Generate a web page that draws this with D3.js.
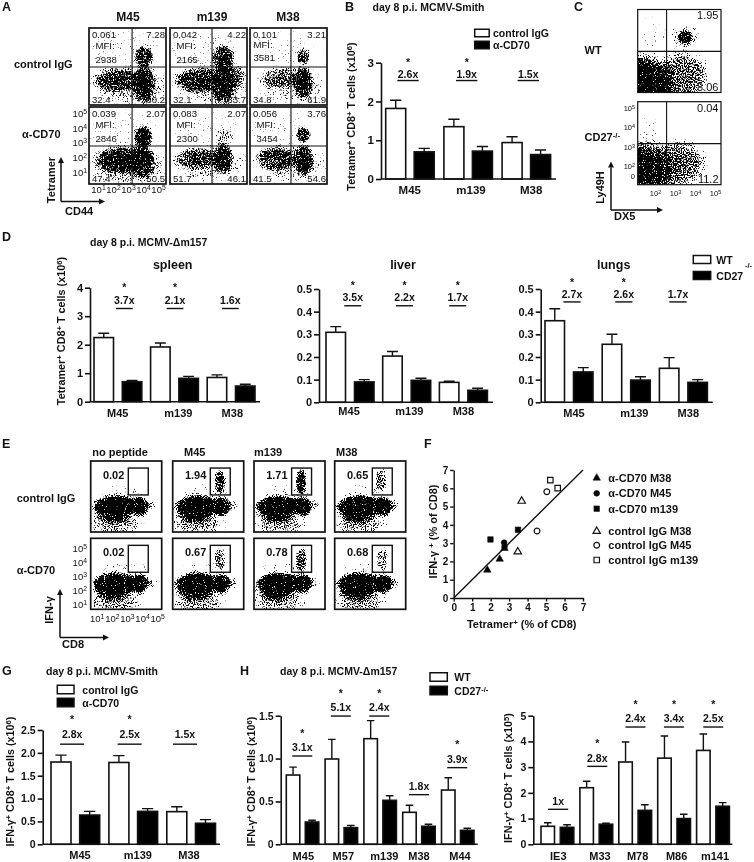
<!DOCTYPE html>
<html>
<head>
<meta charset="utf-8">
<title>CD70 / CD27 figure</title>
<script src="https://cdn.jsdelivr.net/npm/d3@7/dist/d3.min.js"></script>
<style>
  html, body { margin: 0; padding: 0; background: #fff; }
  svg { display: block; will-change: transform; }
  text { font-family: "Liberation Sans", Arial, sans-serif; fill: #111; }
</style>
</head>
<body>
<svg id="fig" width="754" height="862"></svg>
<script>
// panel B
var bCats = ['M45', 'm139', 'M38'];
var bCtrl = [1.82, 1.35, 0.94];
var bCtrlTop = [2.03, 1.54, 1.09];
var bCd70 = [0.70, 0.72, 0.63];
var bCd70Top = [0.79, 0.84, 0.75];
var bFold = ['2.6x', '1.9x', '1.5x'];
var bStar = [1, 1, 0];
var bLevel = [2.54, 2.54, 2.54];

// panel D
var dCats = ['M45', 'm139', 'M38'];
var spleenWt = [2.25, 1.92, 0.85];
var spleenWtTop = [2.40, 2.06, 0.94];
var spleenKo = [0.70, 0.82, 0.55];
var spleenKoTop = [0.75, 0.89, 0.61];
var spleenFold = ['3.7x', '2.1x', '1.6x'];
var spleenStar = [1, 1, 0];
var spleenLevel = [3.27, 3.27, 3.27];

var liverWt = [0.309, 0.204, 0.088];
var liverWtTop = [0.334, 0.224, 0.093];
var liverKo = [0.090, 0.097, 0.053];
var liverKoTop = [0.100, 0.106, 0.062];
var liverFold = ['3.5x', '2.2x', '1.7x'];
var liverStar = [1, 1, 1];
var liverLevel = [0.426, 0.426, 0.426];

var lungsWt = [0.360, 0.256, 0.150];
var lungsWtTop = [0.413, 0.300, 0.197];
var lungsKo = [0.134, 0.098, 0.088];
var lungsKoTop = [0.153, 0.113, 0.100];
var lungsFold = ['2.7x', '2.6x', '1.7x'];
var lungsStar = [1, 1, 0];
var lungsLevel = [0.443, 0.443, 0.443];

// panel G
var gCats = ['M45', 'm139', 'M38'];
var gCtrl = [1.80, 1.79, 0.714];
var gCtrlTop = [1.95, 1.94, 0.82];
var gCd70 = [0.64, 0.72, 0.46];
var gCd70Top = [0.72, 0.78, 0.54];
var gFold = ['2.8x', '2.5x', '1.5x'];
var gStar = [1, 1, 0];
var gLevel = [2.19, 2.19, 2.19];

// panel H
var hCatsA = ['M45', 'M57', 'm139', 'M38', 'M44'];
var hWtA = [0.808, 0.995, 1.232, 0.373, 0.633];
var hWtTopA = [0.90, 1.224, 1.442, 0.455, 0.777];
var hKoA = [0.26, 0.194, 0.513, 0.21, 0.163];
var hKoTopA = [0.28, 0.22, 0.567, 0.233, 0.187];
var hFoldA = ['3.1x', '5.1x', '2.4x', '1.8x', '3.9x'];
var hStarA = [1, 1, 1, 0, 1];
var hLevelA = [1.03, 1.496, 1.496, 0.579, 0.894];

var hCatsB = ['IE3', 'M33', 'M78', 'M86', 'm141'];
var hWtB = [0.70, 2.20, 3.20, 3.35, 3.65];
var hWtTopB = [0.84, 2.45, 3.98, 4.21, 4.29];
var hKoB = [0.66, 0.78, 1.32, 1.00, 1.48];
var hKoTopB = [0.76, 0.82, 1.54, 1.17, 1.62];
var hFoldB = ['1x', '2.8x', '2.4x', '3.4x', '2.5x'];
var hStarB = [0, 1, 1, 1, 1];
var hLevelB = [1.36, 3.03, 4.56, 4.56, 4.56];

// panel F, [tetramer %, IFN %]
var fCd70M38 = [[1.82, 1.53], [2.49, 2.13], [2.75, 2.72]];
var fCd70M45 = [[2.73, 3.03], [2.75, 2.80]];
var fCd70M139 = [[1.99, 3.20], [3.48, 3.73]];
var fCtrlM38 = [[3.68, 5.30], [3.47, 2.53]];
var fCtrlM45 = [[5.04, 5.81], [4.51, 3.66]];
var fCtrlM139 = [[5.23, 6.45], [5.63, 6.01]];
var fFit = [[0, 0], [7, 7]];

// flow panels: density clouds, [log x, log y, spread x, spread y, density]
var aCtrlM45 = [[3.3, 1.45, 2.9, 1.6, 0.45], [2.5, 4.0, 3, 1.5, 0.16], [2.25, 1.88, 1.9, 0.95, 0.8], [4.07, 3.45, 0.75, 0.85, 1], [4.07, 1.65, 0.85, 1.55, 1]];
var aCtrlM139 = [[3.3, 1.5, 2.9, 1.6, 0.45], [2.5, 4.0, 3, 1.5, 0.16], [2.4, 1.88, 2.1, 0.95, 0.88], [3.95, 3.36, 0.85, 1.05, 1], [3.95, 1.65, 0.95, 1.65, 1], [4.6, 2.1, 0.9, 1.1, 0.6]];
var aCtrlM38 = [[3.2, 1.5, 2.6, 1.5, 0.35], [2.5, 4.0, 3, 1.5, 0.15], [2.4, 2.0, 1.6, 0.85, 0.6], [3.95, 3.45, 0.55, 0.65, 0.8], [3.95, 1.7, 0.75, 1.4, 1]];
var aCd70M45 = [[3.0, 1.5, 3.0, 1.6, 0.55], [2.5, 4.0, 3, 1.5, 0.16], [2.67, 1.79, 2.1, 1.05, 1], [4.0, 3.36, 0.75, 0.95, 1], [4.0, 1.7, 0.85, 1.4, 1]];
var aCd70M139 = [[3.1, 1.6, 2.7, 1.45, 0.4], [2.5, 4.0, 3, 1.5, 0.13], [2.17, 1.9, 1.8, 0.85, 0.75], [4.0, 3.25, 0.65, 0.85, 0.5], [3.95, 1.9, 0.75, 1.2, 1]];
var aCd70M38 = [[3.1, 1.6, 2.7, 1.5, 0.42], [2.5, 4.0, 3, 1.5, 0.13], [2.17, 1.9, 1.7, 0.95, 0.8], [3.95, 3.52, 0.55, 0.6, 0.95], [3.95, 1.8, 0.75, 1.3, 1]];

var cWtCloud = [[1.2, 1.3, 2.0, 2.0, 1], [1.2, 1.3, 1.7, 1.7, 1], [3.33, 1.9, 1.6, 1.4, 0.68], [3.5, 3.9, 0.42, 0.45, 1], [3.5, 3.9, 0.85, 0.85, 0.3], [1.9, 3.9, 0.9, 1.2, 0.1]];
var cKoCloud = [[1.2, 1.7, 1.9, 1.9, 1], [3.08, 2.1, 1.7, 1.4, 0.7], [1.7, 3.7, 0.7, 1.0, 0.12]];

var eBase = [[2.3, 1.2, 1.9, 1.1, 0.5], [2.8, 3.5, 1.9, 0.6, 0.16], [2.8, 2.5, 2.3, 0.72, 1], [2.2, 2.4, 1.5, 0.85, 1], [2.1, 2.25, 1.55, 1.2, 1], [3.85, 2.4, 0.62, 0.85, 1]];
var eGateCtrl = [[], [[3.73, 4.2, 0.42, 1.05, 0.85]], [[3.73, 4.2, 0.42, 1.15, 0.9]], [[3.65, 4.3, 0.42, 0.95, 0.68]]];
var eGateCd70 = [[], [[3.73, 4.2, 0.42, 1.05, 0.65]], [[3.73, 4.1, 0.42, 1.1, 0.75]], [[3.73, 4.2, 0.42, 1.0, 0.55]]];

// flow gates and percentages
var aCols = ['M45', 'm139', 'M38'];
var aGateX = [3.27, 3.2, 3.13];
var aGateY = 2.76;
var aStats = [
  [['0.061', '7.28', '32.4', '60.2', '2938'], ['0.042', '4.22', '32.1', '63.7', '2165'], ['0.101', '3.21', '34.8', '61.9', '3581']],
  [['0.039', '2.07', '47.4', '50.5', '2846'], ['0.083', '2.07', '51.7', '46.1', '2300'], ['0.056', '3.76', '41.5', '54.6', '3454']]
];
var cStats = [['1.95', '8.06'], ['0.04', '11.2']];
var eCols = ['no peptide', 'M45', 'm139', 'M38'];
var eStats = [['0.02', '1.94', '1.71', '0.65'], ['0.02', '0.67', '0.78', '0.68']];
var logTicks = [1, 2, 3, 4, 5];
var cTicksX = [2, 3, 4, 5];
var cTicksY = [2, 3, 4, 5];

var svg = d3.select('#fig');
var defs = svg.append('defs');

// soft edged cloud
var grad = defs.append('radialGradient').attr('id', 'soft');
grad.append('stop').attr('offset', '0%').attr('stop-color', '#000').attr('stop-opacity', 1);
grad.append('stop').attr('offset', '60%').attr('stop-color', '#000').attr('stop-opacity', 0.85);
grad.append('stop').attr('offset', '100%').attr('stop-color', '#000').attr('stop-opacity', 0);

// turns the clouds into stippled dots
function stipple(id, freq, seed, slope) {
  var f = defs.append('filter').attr('id', id).attr('filterUnits', 'userSpaceOnUse')
    .attr('x', 0).attr('y', 0).attr('width', 754).attr('height', 862)
    .attr('color-interpolation-filters', 'sRGB');
  f.append('feTurbulence').attr('type', 'fractalNoise').attr('baseFrequency', freq)
    .attr('numOctaves', 1).attr('seed', seed).attr('result', 'noise');
  f.append('feColorMatrix').attr('in', 'noise').attr('type', 'matrix')
    .attr('values', '0 0 0 0 0  0 0 0 0 0  0 0 0 0 0  2.2 0 0 0 -0.6').attr('result', 'na');
  f.append('feComposite').attr('in', 'SourceAlpha').attr('in2', 'na').attr('operator', 'arithmetic')
    .attr('k1', 0).attr('k2', 1).attr('k3', 1).attr('k4', -1).attr('result', 'sum');
  f.append('feComponentTransfer').attr('in', 'sum').append('feFuncA')
    .attr('type', 'linear').attr('slope', slope).attr('intercept', 0);
}
stipple('dotsFine', 1.4, 4, 4);
stipple('dotsCoarse', 0.9, 9, 6);

var STROKE = '#111';

// "x10^{6}" becomes a superscript tspan
function rich(sel, str) {
  str.split(/\^\{(.*?)\}/).forEach(function(part, i) {
    if (!part) return;
    var t = sel.append('tspan').text(part);
    if (i % 2) t.attr('font-size', '72%').attr('baseline-shift', '38%');
  });
  return sel;
}

function label(x, y, str, size, bold, anchor, rot) {
  var t = svg.append('text')
    .attr('font-size', size)
    .attr('font-weight', bold ? 'bold' : 'normal')
    .attr('text-anchor', anchor || 'start');
  if (rot) t.attr('transform', 'translate(' + x + ',' + y + ') rotate(' + rot + ')');
  else t.attr('x', x).attr('y', y);
  return rich(t, str);
}

function arrows(ox, oy, top, right, len) {
  var g = svg.append('g').attr('stroke', STROKE).attr('stroke-width', 1.5).attr('fill', 'none');
  g.append('line').attr('x1', ox).attr('y1', oy).attr('x2', ox).attr('y2', top + len);
  g.append('line').attr('x1', ox).attr('y1', oy).attr('x2', right - len).attr('y2', oy);
  g.append('path').attr('stroke', 'none').attr('fill', STROKE)
    .attr('d', 'M' + ox + ',' + top + 'l3,' + len + 'h-6z');
  g.append('path').attr('stroke', 'none').attr('fill', STROKE)
    .attr('d', 'M' + right + ',' + oy + 'l-' + len + ',3v-6z');
}

var clipCount = 0;
function flowPanel(o) {
  var x = d3.scaleLog().domain(o.xDomain).range([o.x, o.x + o.w]);
  var y = d3.scaleLog().domain(o.yDomain).range([o.y + o.h, o.y]);
  var clipId = 'clip' + (clipCount++);
  defs.append('clipPath').attr('id', clipId).append('rect')
    .attr('x', o.x).attr('y', o.y).attr('width', o.w).attr('height', o.h);
  var inner = svg.append('g').attr('clip-path', 'url(#' + clipId + ')')
    .append('g').attr('filter', 'url(#' + o.filter + ')');
  inner.selectAll('ellipse').data(o.clouds).join('ellipse')
    .attr('cx', function(d) { return x(Math.pow(10, d[0])); })
    .attr('cy', function(d) { return y(Math.pow(10, d[1])); })
    .attr('rx', function(d) { return Math.abs(x(Math.pow(10, d[0] + d[2])) - x(Math.pow(10, d[0]))); })
    .attr('ry', function(d) { return Math.abs(y(Math.pow(10, d[1] + d[3])) - y(Math.pow(10, d[1]))); })
    .attr('fill', 'url(#soft)')
    .attr('fill-opacity', function(d) { return Math.min(1, d[4]); });
  svg.append('rect').attr('x', o.x).attr('y', o.y).attr('width', o.w).attr('height', o.h)
    .attr('fill', 'none').attr('stroke', STROKE).attr('stroke-width', o.frame || 1.7);
  if (o.quadX) {
    svg.append('line').attr('x1', x(Math.pow(10, o.quadX))).attr('x2', x(Math.pow(10, o.quadX)))
      .attr('y1', o.y).attr('y2', o.y + o.h).attr('stroke', STROKE).attr('stroke-width', 1.1);
    svg.append('line').attr('x1', o.x).attr('x2', o.x + o.w)
      .attr('y1', y(Math.pow(10, o.quadY))).attr('y2', y(Math.pow(10, o.quadY)))
      .attr('stroke', STROKE).attr('stroke-width', 1.1);
  }
  if (o.gate) {
    var gx0 = x(Math.pow(10, o.gate[0])), gx1 = x(Math.pow(10, o.gate[1]));
    var gy0 = y(Math.pow(10, o.gate[2])), gy1 = y(Math.pow(10, o.gate[3]));
    svg.append('rect').attr('x', gx0).attr('y', gy0).attr('width', gx1 - gx0).attr('height', gy1 - gy0)
      .attr('fill', 'none').attr('stroke', STROKE).attr('stroke-width', 1.4);
    label(gx0 - 4, gy0 + 11, o.gateLabel, 11, true, 'end');
  }
  return { x: x, y: y };
}

// log tick labels with no tick marks, through d3 axes
function logAxis(scale, exps, orient, at, size) {
  var axis = orient === 'left' ? d3.axisLeft(scale) : d3.axisBottom(scale);
  axis.tickValues(exps.map(function(e) { return Math.pow(10, e); })).tickSize(0).tickPadding(0).tickFormat('');
  var g = svg.append('g')
    .attr('transform', orient === 'left' ? 'translate(' + at + ',0)' : 'translate(0,' + at + ')')
    .call(axis);
  g.select('.domain').remove();
  g.selectAll('.tick text').each(function(d) {
    var t = d3.select(this).attr('font-size', size).attr('font-family', null).attr('dy', null)
      .attr('y', orient === 'left' ? 3.5 : 0).attr('x', 0);
    t.selectAll('*').remove();
    t.text(null);
    rich(t, '10^{' + Math.round(Math.log10(d)) + '}');
  });
  return g;
}

// ---------- bar panels ----------
function barPanel(o) {
  var n = o.cats.length;
  var gx = d3.scaleBand().domain(o.cats).range([o.x0, o.x0 + o.step * n]);
  var sx = d3.scaleBand().domain(['a', 'b']).range([0, o.inner * 2]);
  var y = d3.scaleLinear().domain([0, o.yMax]).range([o.bottom, o.top]);
  var rows = o.cats.map(function(c, i) { return { c: c, i: i }; });

  var g = svg.append('g');
  [['a', o.a, o.aTop, '#fff'], ['b', o.b, o.bTop, '#000']].forEach(function(s) {
    var caps = o.barW * 0.28;
    g.selectAll('.err' + s[0]).data(rows).join('path').attr('class', 'err' + s[0])
      .attr('fill', 'none').attr('stroke', STROKE).attr('stroke-width', 1.4)
      .attr('d', function(d) {
        var cx = gx(d.c) + sx(s[0]) + o.barW / 2;
        return 'M' + cx + ',' + y(s[1][d.i]) + 'V' + y(s[2][d.i]) + 'M' + (cx - caps) + ',' + y(s[2][d.i]) + 'H' + (cx + caps);
      });
    g.selectAll('.bar' + s[0]).data(rows).join('rect').attr('class', 'bar' + s[0])
      .attr('x', function(d) { return gx(d.c) + sx(s[0]); })
      .attr('width', o.barW)
      .attr('y', function(d) { return y(s[1][d.i]); })
      .attr('height', function(d) { return o.bottom - y(s[1][d.i]); })
      .attr('fill', s[3]).attr('stroke', STROKE).attr('stroke-width', 1.6);
  });

  // axes
  var ya = svg.append('g').attr('transform', 'translate(' + o.left + ',0)')
    .call(d3.axisLeft(y).tickValues(o.ticks).tickFormat(o.fmt).tickSize(5).tickSizeOuter(0).tickPadding(2));
  ya.selectAll('text').attr('font-size', o.tickFont || 11).attr('font-weight', 'bold').attr('font-family', null);
  ya.selectAll('line,path').attr('stroke', STROKE).attr('stroke-width', 1.6);
  var xa = svg.append('g').attr('transform', 'translate(0,' + o.bottom + ')')
    .call(d3.axisBottom(gx).tickSize(0).tickPadding(o.catPad));
  xa.select('.domain').remove();
  xa.selectAll('text').attr('font-size', o.catFont || 11).attr('font-weight', 'bold').attr('font-family', null)
    .attr('dx', function(d, i) { return o.catDx[i]; });
  svg.append('line').attr('x1', o.left).attr('x2', o.xEnd).attr('y1', o.bottom).attr('y2', o.bottom)
    .attr('stroke', STROKE).attr('stroke-width', 1.6);

  // fold change annotations
  rows.forEach(function(d) {
    var cx = gx(d.c) + o.step / 2 + o.foldDx[d.i];
    var ly = y(o.level[d.i]);
    svg.append('line').attr('x1', cx - o.foldHalf).attr('x2', cx + o.foldHalf).attr('y1', ly).attr('y2', ly)
      .attr('stroke', STROKE).attr('stroke-width', 1.4);
    label(cx, ly - o.foldGap, o.fold[d.i], 10.5, true, 'middle');
    // star sits above the fold label, no closer than its text box allows
    if (o.star[d.i]) label(cx, Math.min(ly - o.starGap + 6.3, ly - o.foldGap - 11.9), '*', 10.5, true, 'middle');
  });
}

function legend(x, boxW, y1, y2, h, textX, name1, name2, size) {
  svg.append('rect').attr('x', x).attr('y', y1 - h / 2).attr('width', boxW).attr('height', h)
    .attr('fill', '#fff').attr('stroke', STROKE).attr('stroke-width', 1.5);
  svg.append('rect').attr('x', x).attr('y', y2 - h / 2).attr('width', boxW).attr('height', h)
    .attr('fill', '#000').attr('stroke', STROKE).attr('stroke-width', 1.5);
  label(textX, y1 + 4, name1, size, true);
  label(textX, y2 + 4, name2, size, true);
}

// ---------- panel letters ----------
[['A', 2, 11], ['B', 345, 11], ['C', 574, 11], ['D', 2, 241], ['E', 2, 448], ['F', 424, 448], ['G', 2, 675], ['H', 240, 675]]
  .forEach(function(d) { label(d[1], d[2], d[0], 12.5, true); });

// ---------- A ----------
var aX = [89, 170, 250], aY = [28, 107];
var aClouds = [[aCtrlM45, aCtrlM139, aCtrlM38], [aCd70M45, aCd70M139, aCd70M38]];
var aScales;
aCols.forEach(function(c, i) { label(aX[i] + [39, 42, 38][i], 21, c, 12, true, 'middle'); });
aY.forEach(function(py, r) {
  aX.forEach(function(px, c) {
    var s = flowPanel({ x: px, y: py, w: 77, h: 77, xDomain: [Math.pow(10, 0.4), Math.pow(10, 5.53)],
      yDomain: [Math.pow(10, 0.19), Math.pow(10, 5.39)], clouds: aClouds[r][c], filter: 'dotsFine',
      quadX: aGateX[c], quadY: aGateY });
    if (r === 1 && c === 0) aScales = s;
    var st = aStats[r][c];
    var mfiDy = c === 2 && r === 0 ? -1.5 : 0;
    label(px + 3, py + 10, st[0], 9.6);
    label(px + 76, py + 10, st[1], 9.6, false, 'end');
    label(px + 3, py + 74.5, st[2], 9.6);
    label(px + 76, py + 74.5, st[3], 9.6, false, 'end');
    label(px + (c === 2 && r === 0 ? 3.5 : 6.5), py + 21 + mfiDy, 'MFI:', 9.6);
    label(px + (c === 2 && r === 0 ? 3.5 : 6.5), py + 34.5 + mfiDy, st[4], 9.6);
  });
});
label(14, 68, 'control IgG', 11, true);
label(22, 138, 'α-CD70', 11, true);
logAxis(aScales.y, logTicks, 'left', 87, 9.5);
logAxis(aScales.x, logTicks, 'bottom', 192.5, 9.5);
arrows(61, 201.5, 157, 105, 6);
label(54.5, 180, 'Tetramer', 11, true, 'middle', -90);
label(65, 215, 'CD44', 11, true);

// ---------- B ----------
label(372.5, 11, 'day 8 p.i. MCMV-Smith', 10.5, true);
barPanel({ cats: bCats, a: bCtrl, aTop: bCtrlTop, b: bCd70, bTop: bCd70Top, fold: bFold, star: bStar, level: bLevel,
  x0: 385.7, step: 58.2, inner: 28.5, barW: 20, left: 381, xEnd: 556, top: 62.7, bottom: 179, yMax: 3,
  ticks: [0, 1, 2, 3], fmt: d3.format('d'), tickFont: 11.5, catFont: 11.5, catPad: 7, catDx: [-5, -2, 0],
  foldDx: [-6.8, -6.3, -2.9], foldHalf: 10.7, foldGap: 2.6, starGap: 18 });
legend(474.7, 14.5, 33, 45, 7.5, 493, 'control IgG', 'α-CD70', 10.5);
label(355, 116.5, 'Tetramer^{+} CD8^{+} T cells (x10^{6})', 10.8, true, 'middle', -90);

// ---------- C ----------
var cXDom = [Math.pow(10, 1.135), Math.pow(10, 5.3)], cYDom = [Math.pow(10, 1.03), Math.pow(10, 5.33)];
var cS = null;
[[9.5, cWtCloud], [101.7, cKoCloud]].forEach(function(d, i) {
  cS = flowPanel({ x: 637.7, y: d[0], w: 83.3, h: 83, xDomain: cXDom, yDomain: cYDom, clouds: d[1],
    filter: 'dotsCoarse', quadX: 2.58, quadY: 3.16, frame: 1.2 });
  label(718.5, d[0] + 9.8, cStats[i][0], 11, false, 'end');
  label(718.5, d[0] + 81, cStats[i][1], 11, false, 'end');
});
logAxis(cS.y, cTicksY, 'left', 635, 7.5).selectAll('text').attr('y', 2.5);
logAxis(cS.x, cTicksX, 'bottom', 195.5, 7.5);
label(635, 178.5, '0', 7.5, false, 'end');
label(584.5, 54, 'WT', 11, true);
label(584.5, 141, 'CD27^{-/-}', 11, true);
arrows(611, 210, 161.5, 663, 6);
label(604, 187.5, 'Ly49H', 11, true, 'middle', -90);
label(614, 220, 'DX5', 11, true);

// ---------- D ----------
label(90, 245.5, 'day 8 p.i. MCMV-Δm157', 10.5, true);
label(172.7, 268.5, 'spleen', 12.5, true, 'middle');
label(403, 268.5, 'liver', 12.5, true, 'middle');
label(613.7, 268.5, 'lungs', 12.5, true, 'middle');
barPanel({ cats: dCats, a: spleenWt, aTop: spleenWtTop, b: spleenKo, bTop: spleenKoTop, fold: spleenFold, star: spleenStar, level: spleenLevel,
  x0: 94, step: 56.6, inner: 28.3, barW: 19.5, left: 90, xEnd: 260, top: 287.7, bottom: 401.7, yMax: 4,
  ticks: [0, 1, 2, 3, 4], fmt: d3.format('d'), catPad: 8, catDx: [-4.6, -0.6, -3.2],
  foldDx: [2, -3.9, -5.2], foldHalf: 8.4, foldGap: 5, starGap: 24 });
barPanel({ cats: dCats, a: liverWt, aTop: liverWtTop, b: liverKo, bTop: liverKoTop, fold: liverFold, star: liverStar, level: liverLevel,
  x0: 326, step: 56.7, inner: 28.5, barW: 19.5, left: 319, xEnd: 493, top: 289, bottom: 402.3, yMax: 0.5,
  ticks: [0, 0.1, 0.2, 0.3, 0.4, 0.5], fmt: function(d) { return d ? d3.format('.1f')(d) : '0'; }, catPad: 5, catDx: [-5.3, -1.7, -4.4],
  foldDx: [-1.6, -6.5, -10], foldHalf: 8.5, foldGap: 5, starGap: 21 });
barPanel({ cats: dCats, a: lungsWt, aTop: lungsWtTop, b: lungsKo, bTop: lungsKoTop, fold: lungsFold, star: lungsStar, level: lungsLevel,
  x0: 545, step: 57.2, inner: 28.5, barW: 19.5, left: 540.7, xEnd: 712.7, top: 289, bottom: 402.3, yMax: 0.5,
  ticks: [0, 0.1, 0.2, 0.3, 0.4, 0.5], fmt: function(d) { return d ? d3.format('.1f')(d) : '0'; }, catPad: 7, catDx: [0.4, 3.5, 0.3],
  foldDx: [-1.6, -7, -10], foldHalf: 8.6, foldGap: 4.3, starGap: 21 });
legend(693.3, 17.4, 259.5, 275.5, 8, 716.3, 'WT', 'CD27', 10.5);
label(745, 268, '-/-', 7.5, true, 'start');
label(65, 331, 'Tetramer^{+} CD8^{+} T cells (x10^{6})', 10.8, true, 'middle', -90);

// ---------- E ----------
var eX = [90.7, 172.7, 254, 334.7], eY = [461, 538.3];
var eScales;
var eTitleX = [92.3, 184, 254, 336];
eCols.forEach(function(c, i) { label(eTitleX[i], 455.5, c, 11, true); });
eY.forEach(function(py, r) {
  eX.forEach(function(px, c) {
    var s = flowPanel({ x: px, y: py, w: 71, h: 71, xDomain: [Math.pow(10, 0.6), Math.pow(10, 5.3)],
      yDomain: [Math.pow(10, 0.62), Math.pow(10, 5.66)],
      clouds: eBase.concat((r ? eGateCd70 : eGateCtrl)[c]), filter: 'dotsCoarse',
      gate: [3.09, 4.41, 5.16, 3.25], gateLabel: eStats[r][c] });
    if (r === 1 && c === 0) eScales = s;
  });
});
label(16.7, 501.5, 'control IgG', 11, true);
label(16.7, 574, 'α-CD70', 11, true);
logAxis(eScales.y, logTicks, 'left', 87, 9.5);
logAxis(eScales.x, logTicks, 'bottom', 621.5, 9.5);
arrows(60, 637.5, 589, 109, 6);
label(52.5, 610, 'IFN-γ', 11, true, 'middle', -90);
label(62, 648, 'CD8', 11, true);

// ---------- F ----------
var fx = d3.scaleLinear().domain([0, 7]).range([453.7, 583]);
var fy = d3.scaleLinear().domain([0, 7]).range([598, 470]);
var fxa = svg.append('g').attr('transform', 'translate(0,598)')
  .call(d3.axisBottom(fx).ticks(7).tickFormat(d3.format('d')).tickSize(3.5).tickSizeOuter(0).tickPadding(2));
var fya = svg.append('g').attr('transform', 'translate(453.7,0)')
  .call(d3.axisLeft(fy).ticks(7).tickFormat(d3.format('d')).tickSize(3.5).tickSizeOuter(0).tickPadding(2));
[fxa, fya].forEach(function(a) {
  a.selectAll('text').attr('font-size', 10).attr('font-weight', 'bold').attr('font-family', null);
  a.selectAll('line,path').attr('stroke', STROKE).attr('stroke-width', 1.4);
});
svg.append('path').datum(fFit).attr('fill', 'none').attr('stroke', STROKE).attr('stroke-width', 1.4)
  .attr('d', d3.line().x(function(d) { return fx(d[0]); }).y(function(d) { return fy(d[1]); }));

var fSeries = [
  { name: 'α-CD70 M38', pts: fCd70M38, sym: d3.symbolTriangle, filled: true, ly: 478 },
  { name: 'α-CD70 M45', pts: fCd70M45, sym: d3.symbolCircle, filled: true, ly: 493.3 },
  { name: 'α-CD70 m139', pts: fCd70M139, sym: d3.symbolSquare, filled: true, ly: 508.7 },
  { name: 'control IgG M38', pts: fCtrlM38, sym: d3.symbolTriangle, filled: false, ly: 531.3 },
  { name: 'control IgG M45', pts: fCtrlM45, sym: d3.symbolCircle, filled: false, ly: 545.3 },
  { name: 'control IgG m139', pts: fCtrlM139, sym: d3.symbolSquare, filled: false, ly: 560 }
];
fSeries.forEach(function(s) {
  var size = s.sym === d3.symbolCircle ? 26 : s.sym === d3.symbolSquare ? 30 : 24;
  var path = d3.symbol().type(s.sym).size(size)();
  function style(sel) {
    sel.attr('d', path).attr('fill', s.filled ? '#000' : 'none')
      .attr('stroke', STROKE).attr('stroke-width', s.filled ? 0.6 : 1.2);
  }
  svg.append('g').selectAll('path').data(s.pts).join('path')
    .attr('transform', function(d) { return 'translate(' + fx(d[0]) + ',' + fy(d[1]) + ')'; })
    .call(style);
  svg.append('path').attr('transform', 'translate(596.7,' + s.ly + ')').call(style);
  label(608.3, s.ly + 4, s.name, 11, true);
});
label(521.7, 628, 'Tetramer^{+} (% of CD8)', 11, true, 'middle');
label(437, 531.5, 'IFN-γ ^{+} (% of CD8)', 11, true, 'middle', -90);

// ---------- G ----------
label(46, 675, 'day 8 p.i. MCMV-Smith', 10.5, true);
barPanel({ cats: gCats, a: gCtrl, aTop: gCtrlTop, b: gCd70, bTop: gCd70Top, fold: gFold, star: gStar, level: gLevel,
  x0: 51, step: 57.9, inner: 28.7, barW: 20, left: 42.7, xEnd: 220, top: 730, bottom: 844.3, yMax: 2.5,
  ticks: [0, 0.5, 1, 1.5, 2, 2.5], fmt: function(d) { return d ? d3.format('.1f')(d) : '0'; }, tickFont: 10.5, catPad: 6.5, catDx: [0, 0, -6.8],
  foldDx: [-7.8, -8.2, -10.8], foldHalf: 12, foldGap: 6.5, starGap: 27.5 });
legend(57.3, 16.7, 689.5, 702.5, 8.5, 82.3, 'control IgG', 'α-CD70', 10.5);
label(14, 781.5, 'IFN-γ^{+} CD8^{+} T cells (x10^{6})', 10.8, true, 'middle', -90);

// ---------- H ----------
label(280, 675, 'day 8 p.i. MCMV-Δm157', 10.5, true);
var hFmt = function(d) { return d ? d3.format('.1f')(d) : '0'; };
barPanel({ cats: hCatsA, a: hWtA, aTop: hWtTopA, b: hKoA, bTop: hKoTopA, fold: hFoldA, star: hStarA, level: hLevelA,
  x0: 286.3, step: 38.8, inner: 19, barW: 13.5, left: 280.7, xEnd: 477.7, top: 715.7, bottom: 844.3, yMax: 1.5,
  ticks: [0, 0.5, 1, 1.5], fmt: hFmt, tickFont: 10.5, catPad: 7.5, catDx: [-2.4, -1.2, 1, -3.1, -0.9],
  foldDx: [-3.4, -3.7, -4, -3.1, -3.7], foldHalf: 10, foldGap: 4.7, starGap: 25.5 });
barPanel({ cats: hCatsB, a: hWtB, aTop: hWtTopB, b: hKoB, bTop: hKoTopB, fold: hFoldB, star: hStarB, level: hLevelB,
  x0: 541, step: 38.9, inner: 19.3, barW: 13.5, left: 533.3, xEnd: 732.3, top: 715.7, bottom: 844.3, yMax: 5,
  ticks: [0, 1, 2, 3, 4, 5], fmt: d3.format('d'), tickFont: 10.5, catPad: 7.5, catDx: [-2.2, 0.6, -0.6, -0.5, -1.1],
  foldDx: [-2.3, -2.1, -2.8, -3.2, -2.8], foldHalf: 10, foldGap: 4.7, starGap: 25.5 });
legend(430, 17.3, 677, 690.5, 8.5, 454.3, 'WT', 'CD27^{-/-}', 10.5);
label(255, 781.5, 'IFN-γ^{+} CD8^{+} T cells (x10^{6})', 10.8, true, 'middle', -90);
label(512, 778, 'IFN-γ^{+} CD8^{+} T cells (x10^{5})', 10.8, true, 'middle', -90);
</script>
</body>
</html>
